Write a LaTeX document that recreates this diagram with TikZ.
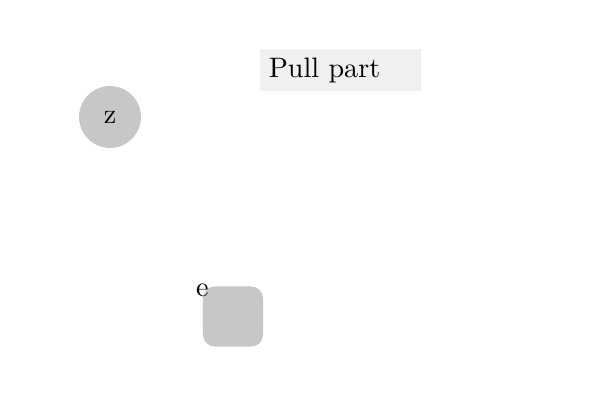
\documentclass[tikz,border=0pt]{standalone}
\usepackage{tikz}

\begin{document}
\begin{tikzpicture}[x=0.0125cm,y=-0.0125cm]
    %
    % `title' is the grey label box at the top.
    % `state' is the round node, `block' the rounded square.
    \tikzstyle{title} = [fill=black!6,inner sep=3pt,text width=51pt,align=left,minimum height=13.9pt]
    \tikzstyle{state} = [fill=black!22,shape=circle,minimum size=22pt,inner sep=0pt]
    \tikzstyle{block} = [fill=black!22,rounded corners=4.3pt,minimum size=21.4pt,inner sep=0pt]
    %
    % Frame
    \useasboundingbox (0,0) rectangle (600,400);
    %
    % Title
    \node[title] (pull) at (340.5,70) {Pull part};
    %
    % Nodes
    \node[state] (z) at (110,117) {z};
    \node[block,label={[anchor=center,inner sep=0pt,yshift=-1.5pt]north west:e}] (e) at (233,316.5) {};
    %
\end{tikzpicture}
\end{document}
